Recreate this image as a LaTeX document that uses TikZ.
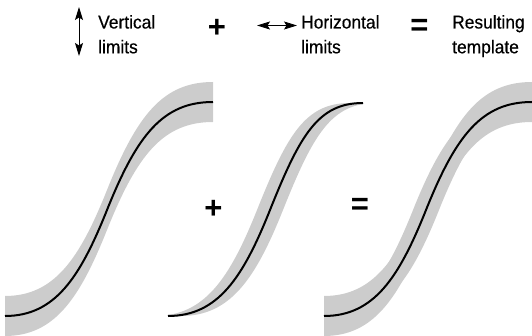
\documentclass[tikz,border=0pt]{standalone}
\usepackage{fontspec}
\newfontfamily\labfont{Liberation Sans}[FakeStretch=0.94,FakeBold=0.4]
\newfontfamily\symfont{Liberation Sans}[BoldFont={Liberation Sans Bold}]
\usetikzlibrary{arrows.meta}
% S-curve, forward and reverse, relative to start point (#1,#2), pixel coords (y down)
\newcommand\Sfwd[2]{(#1,#2) .. controls ({#1+50},{#2}) and ({#1+75},{#2-38.5}) .. ({#1+102},{#2-106}) .. controls ({#1+132},{#2-181}) and ({#1+158},{#2-214}) .. ({#1+208},{#2-214})}
\newcommand\Srev[2]{({#1+208},{#2-214}) .. controls ({#1+158},{#2-214}) and ({#1+132},{#2-181}) .. ({#1+102},{#2-106}) .. controls ({#1+75},{#2-38.5}) and ({#1+50},{#2}) .. (#1,#2)}
\newcommand\Hfwd[2]{(#1,#2) .. controls ({#1+50},{#2}) and ({#1+75},{#2-38.5}) .. ({#1+102},{#2-106}) .. controls ({#1+132},{#2-181}) and ({#1+150},{#2-213}) .. ({#1+195},{#2-213})}
\newcommand\Hrev[2]{({#1+195},{#2-213}) .. controls ({#1+150},{#2-213}) and ({#1+132},{#2-181}) .. ({#1+102},{#2-106}) .. controls ({#1+75},{#2-38.5}) and ({#1+50},{#2}) .. (#1,#2)}
\tikzset{
  band/.style={fill=black!20, draw=none},
  curve/.style={draw=black, line width=2pt},
  lab/.style={inner sep=0pt, anchor=base west, font=\labfont\fontsize{18.5}{25}\selectfont},
  opsym/.style={inner sep=0pt, font=\symfont\bfseries\fontsize{31}{31}\selectfont},
  tipv/.tip={Stealth[length=13pt,width=8pt,inset=2.5pt]},
  limarrow/.style={line width=0.9pt, tipv-tipv}
}
\begin{document}
\begin{tikzpicture}[x=1pt,y=-1pt]
\useasboundingbox (0,0) rectangle (532,336);
% ---- header ----
\coordinate (va) at (79,7);
\coordinate (vb) at (79,56);
\draw[limarrow] (va) -- (vb);
\node[lab] (v1) at (98,28.5) {Vertical};
\node[lab] (v2) at (98,53.3) {limits};
\node[opsym] (p1) at (217,28.5) {+};
\coordinate (ha) at (257,25.5);
\coordinate (hb) at (297,25.5);
\draw[limarrow] (ha) -- (hb);
\node[lab] (h1) at (301,28.5) {Horizontal};
\node[lab] (h2) at (301,53.3) {limits};
\node[opsym] (e1) at (419.5,27) {=};
\node[lab] (r1) at (452,28.5) {Resulting};
\node[lab] (r2) at (452,53.3) {template};
% ---- curve 1: vertical limits ----
\fill[band] \Sfwd{5}{296} -- \Srev{5}{336} -- cycle;
\draw[curve] \Sfwd{5}{316};
% ---- curve 2: horizontal limits ----
\begin{scope}
  \clip (168,0) rectangle (363,336);
  \fill[band] \Hfwd{155}{316} -- \Hrev{181}{316} -- cycle;
\end{scope}
\draw[curve] \Hfwd{168}{316};
% ---- curve 3: resulting template ----
\begin{scope}
  \clip (324,0) rectangle (532,336);
  \fill[band] \Sfwd{324}{296} -- \Srev{324}{336} -- cycle;
  \fill[band] \Sfwd{311}{316} -- \Srev{337}{316} -- cycle;
\end{scope}
\draw[curve] \Sfwd{324}{316};
% ---- operators between curves ----
\node[opsym] (p2) at (213.5,209) {+};
\node[opsym] (e2) at (360,206) {=};
\end{tikzpicture}
\end{document}
